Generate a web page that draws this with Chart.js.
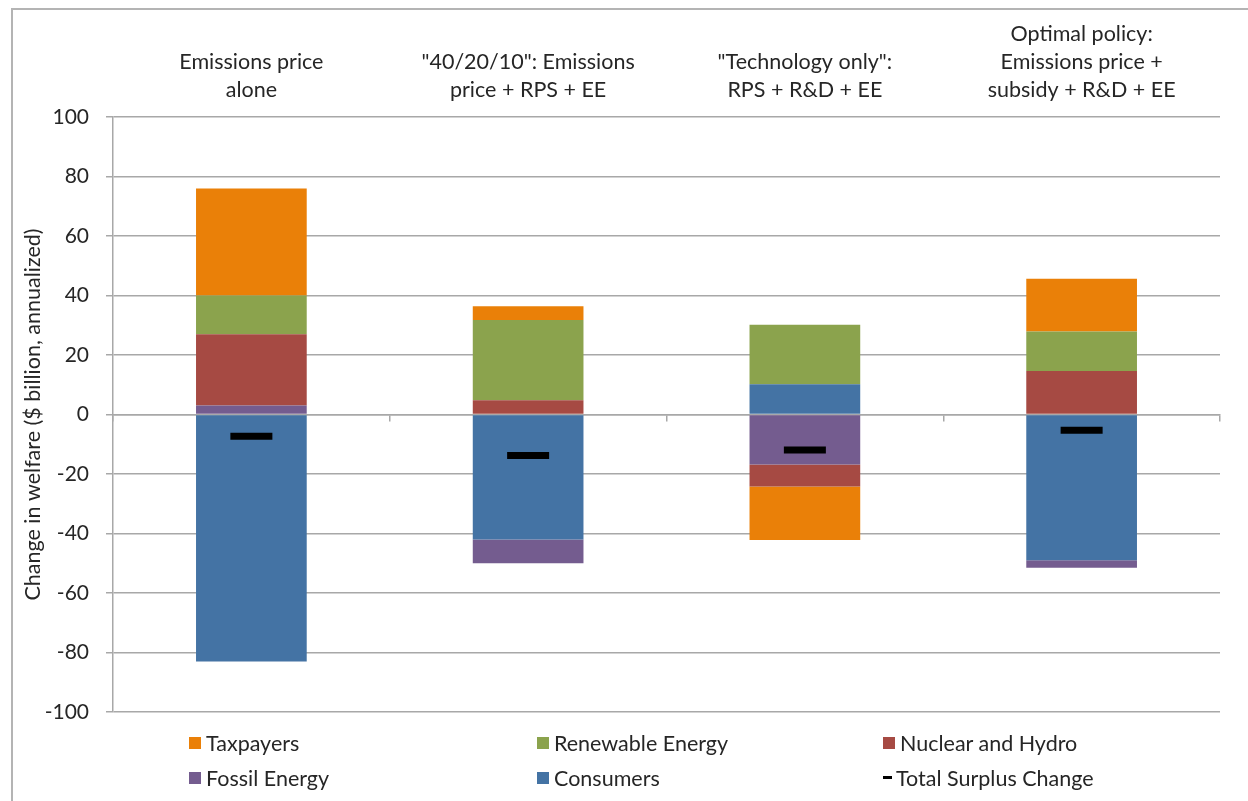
<!DOCTYPE html>
<html>
<head>
<meta charset="utf-8">
<script src="https://cdn.jsdelivr.net/npm/chart.js@4.4.1/dist/chart.umd.min.js"></script>
<style>
  html, body { margin: 0; padding: 0; background: #ffffff; overflow: hidden; }
  #wrap { position: relative; width: 1248px; height: 801px; }
  #frame { position: absolute; left: 11px; top: 8px; width: 1260px; height: 820px; border: 2px solid #b4b4b4; box-sizing: border-box; pointer-events: none; }
  canvas { position: absolute; left: 0; top: 0; }
  .lg { position: absolute; font-family: Lato, "Open Sans", sans-serif; font-size: 21.5px; color: #262626; white-space: nowrap; line-height: 24px; }
  .lg .box { position: absolute; top: 6px; }
  .lg .txt { position: absolute; top: 0; }
</style>
</head>
<body>
<div id="wrap">
  <canvas id="c" width="1248" height="801"></canvas>
  <div id="frame"></div>
  <div id="legend"></div>
</div>
<script>
// ---- data ----
const categories = [
  ["Emissions price", "alone"],
  ["\"40/20/10\": Emissions", "price + RPS + EE"],
  ["\"Technology only\":", "RPS + R&D + EE"],
  ["Optimal policy:", "Emissions price +", "subsidy + R&D + EE"]
];
const consumers = [-83, -42, 10.2, -49];
const fossilEnergy = [3, -8, -16.8, -2.5];
const nuclearHydro = [24, 4.8, -7.4, 14.6];
const renewableEnergy = [13, 27, 20, 13.3];
const taxpayers = [36, 4.6, -18, 17.7];
const totalSurplus = [-7.3, -13.8, -11.9, -5.3];
const yTicks = [-100, -80, -60, -40, -20, 0, 20, 40, 60, 80, 100];

const colors = {
  consumers: '#4473a4',
  fossil: '#745c8f',
  nuclear: '#a64a43',
  renewable: '#8ba34d',
  taxpayers: '#ea8008',
  total: '#000000'
};

const FONT = 'Lato, "Open Sans", sans-serif';
const TEXT = '#262626';
const GRID = '#a8a8a8';

const ctx = document.getElementById('c').getContext('2d');
const chart = new Chart(ctx, {
  type: 'bar',
  data: {
    labels: categories,
    datasets: [
      { type: 'line', label: 'Total Surplus Change', data: totalSurplus, showLine: false,
        pointStyle: 'line', pointRadius: 21, pointHoverRadius: 21, pointBorderWidth: 7, pointHoverBorderWidth: 7,
        borderColor: colors.total, backgroundColor: colors.total, stack: 'total', xAxisID: 'x', yAxisID: 'y' },
      { label: 'Consumers', data: consumers, backgroundColor: colors.consumers, stack: 's' },
      { label: 'Fossil Energy', data: fossilEnergy, backgroundColor: colors.fossil, stack: 's' },
      { label: 'Nuclear and Hydro', data: nuclearHydro, backgroundColor: colors.nuclear, stack: 's' },
      { label: 'Renewable Energy', data: renewableEnergy, backgroundColor: colors.renewable, stack: 's' },
      { label: 'Taxpayers', data: taxpayers, backgroundColor: colors.taxpayers, stack: 's' }
    ]
  },
  options: {
    responsive: false,
    animation: false,
    maintainAspectRatio: false,
    layout: { padding: { top: 15, right: 22, bottom: 89, left: 0 } },
    datasets: { bar: { barPercentage: 0.4, categoryPercentage: 1.0, borderWidth: 0 } },
    plugins: { legend: { display: false }, tooltip: { enabled: false } },
    scales: {
      x: {
        type: 'category',
        position: 'top',
        stacked: true,
        grid: { display: false },
        border: { display: false },
        ticks: { color: TEXT, font: { family: FONT, size: 21.5, lineHeight: '28px' }, padding: 5, maxRotation: 0, autoSkip: false }
      },
      x2: {
        type: 'category',
        axis: 'x',
        position: { y: 0 },
        grid: { display: true, drawOnChartArea: false, drawTicks: true, tickLength: 6, offset: true, color: GRID, lineWidth: 1.5 },
        border: { display: true, color: GRID, width: 1.5 },
        ticks: { display: false }
      },
      y: {
        stacked: true,
        min: -100,
        max: 100,
        afterBuildTicks: (s) => { s.ticks = yTicks.map(v => ({ value: v })); },
        afterFit: (s) => { s.width = 113; },
        grid: { color: GRID, lineWidth: 1.5, tickLength: 7 },
        border: { display: true, color: GRID, width: 1.5 },
        ticks: { color: TEXT, font: { family: FONT, size: 21 }, padding: 17 },
        title: { display: true, text: 'Change in welfare ($ billion, annualized)', color: TEXT,
                 font: { family: FONT, size: 21.5 }, padding: { top: 20, bottom: 0 } }
      }
    }
  }
});

// ---- HTML legend built from the chart's own legend items ----
const legendItems = Chart.defaults.plugins.legend.labels.generateLabels(chart).reverse();
const colX = [189, 537, 883];
const rowY = [731, 766];
const legendEl = document.getElementById('legend');
legendItems.forEach((it, i) => {
  const col = i % 3, row = Math.floor(i / 3);
  const d = document.createElement('div');
  d.className = 'lg';
  d.style.left = colX[col] + 'px';
  d.style.top = rowY[row] + 'px';
  const box = document.createElement('span');
  box.className = 'box';
  const isLine = it.text === 'Total Surplus Change';
  box.style.left = '0px';
  box.style.width = (isLine ? 9 : 12) + 'px';
  box.style.height = (isLine ? 3 : 12) + 'px';
  if (isLine) box.style.top = '10px';
  box.style.background = it.fillStyle;
  const t = document.createElement('span');
  t.className = 'txt';
  t.style.left = (isLine ? 13 : 17) + 'px';
  t.textContent = it.text;
  d.appendChild(box); d.appendChild(t);
  legendEl.appendChild(d);
});
</script>
</body>
</html>
